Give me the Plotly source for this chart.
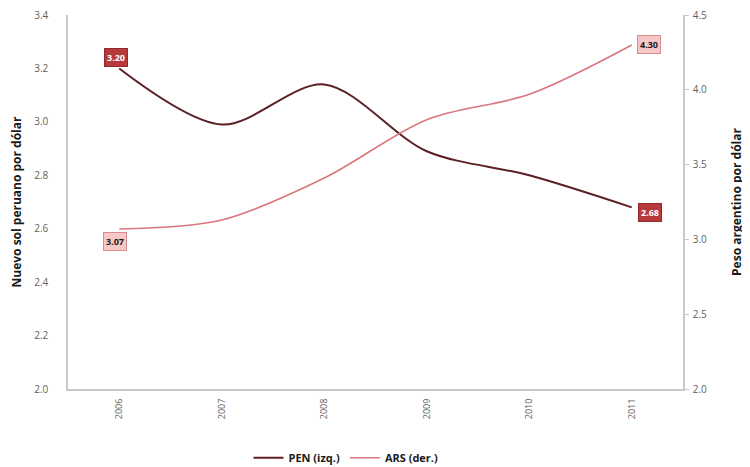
import plotly.graph_objects as go

years = ["2006", "2007", "2008", "2009", "2010", "2011"]
pen = [3.20, 2.99, 3.14, 2.89, 2.80, 2.68]
ars = [3.07, 3.13, 3.41, 3.80, 3.97, 4.30]
left_ticks = [2.0, 2.2, 2.4, 2.6, 2.8, 3.0, 3.2, 3.4]
right_ticks = [2.0, 2.5, 3.0, 3.5, 4.0, 4.5]

PEN_COLOR = "#5b1f24"
ARS_COLOR = "#d9777c"
AXIS_COLOR = "#c8c8c8"
FAM = "Open Sans, Liberation Sans, sans-serif"
TICK_FONT = dict(family=FAM, size=10, color="#5f5f5f")
TITLE_FONT = dict(family=FAM, size=12, color="#1a1a1a")

fig = go.Figure()
fig.add_trace(go.Scatter(
    x=years, y=pen, name="<b>PEN (izq.)</b>", mode="lines",
    line=dict(color=PEN_COLOR, width=2, shape="spline", smoothing=0.9),
    yaxis="y"))
fig.add_trace(go.Scatter(
    x=years, y=ars, name="<b>ARS (der.)</b>", mode="lines",
    line=dict(color=ARS_COLOR, width=1.6, shape="spline", smoothing=0.9),
    yaxis="y2"))

ann_font_dark = dict(family=FAM, size=9, color="#1a1a1a")
ann_font_light = dict(family=FAM, size=9, color="#ffffff")
first, last = 0, len(years) - 1

# PEN labels (first & last)
fig.add_annotation(x=first, y=pen[first], xref="x", yref="y", text="<b>%.2f</b>" % pen[first],
                   showarrow=False, xshift=-3, yshift=11, font=ann_font_light,
                   bgcolor="#b7393b", bordercolor="#8e2a2c", borderwidth=1, borderpad=2)
fig.add_annotation(x=last, y=pen[last], xref="x", yref="y", text="<b>%.2f</b>" % pen[last],
                   showarrow=False, xshift=18, yshift=-5, font=ann_font_light,
                   bgcolor="#b7393b", bordercolor="#8e2a2c", borderwidth=1, borderpad=2)
# ARS labels (first & last)
fig.add_annotation(x=first, y=ars[first], xref="x", yref="y2", text="<b>%.2f</b>" % ars[first],
                   showarrow=False, xshift=-4, yshift=-13, font=ann_font_dark,
                   bgcolor="#f7c6c6", bordercolor="#d98c8e", borderwidth=1, borderpad=2)
fig.add_annotation(x=last, y=ars[last], xref="x", yref="y2", text="<b>%.2f</b>" % ars[last],
                   showarrow=False, xshift=17, yshift=0, font=ann_font_dark,
                   bgcolor="#f7c6c6", bordercolor="#d98c8e", borderwidth=1, borderpad=2)

fig.update_layout(
    width=742, height=459,
    margin=dict(l=60, r=67, t=7, b=78, autoexpand=False),
    paper_bgcolor="white", plot_bgcolor="white",
    showlegend=True,
    legend=dict(orientation="h", x=0.452, xanchor="center", y=-0.184, yanchor="middle",
                font=dict(family=FAM, size=11, color="#1a1a1a"),
                itemwidth=30, tracegroupgap=0),
    xaxis=dict(type="category", range=[-0.5, len(years) - 0.5], autorange=False,
               showgrid=False, zeroline=False, automargin=False,
               showline=True, linecolor=AXIS_COLOR, linewidth=2,
               tickangle=-90, tickfont=dict(family=FAM, size=9, color="#5f5f5f"),
               ticks="", ticklen=0, ticklabelstandoff=4),
    yaxis=dict(range=[2.0, 3.4], tickvals=left_ticks, ticktext=["%.1f" % v for v in left_ticks],
               showgrid=False, zeroline=False, showline=True, linecolor=AXIS_COLOR, linewidth=1.5,
               automargin=False, ticklabeloverflow="allow",
               tickfont=TICK_FONT, ticks="", ticklabelstandoff=16,
               title=dict(text="<b>Nuevo sol peruano por dólar</b>", font=TITLE_FONT, standoff=10)),
    yaxis2=dict(range=[2.0, 4.5], tickvals=right_ticks, ticktext=["%.1f" % v for v in right_ticks],
                overlaying="y", side="right", showgrid=False, zeroline=False,
                showline=True, linecolor=AXIS_COLOR, linewidth=1.5, automargin=False,
                ticklabeloverflow="allow",
                tickfont=TICK_FONT, ticks="outside", ticklen=4, tickcolor=AXIS_COLOR,
                ticklabelstandoff=2,
                title=dict(text="<b>Peso argentino por dólar</b>", font=TITLE_FONT, standoff=27)),
)

fig.write_html("out.html")
